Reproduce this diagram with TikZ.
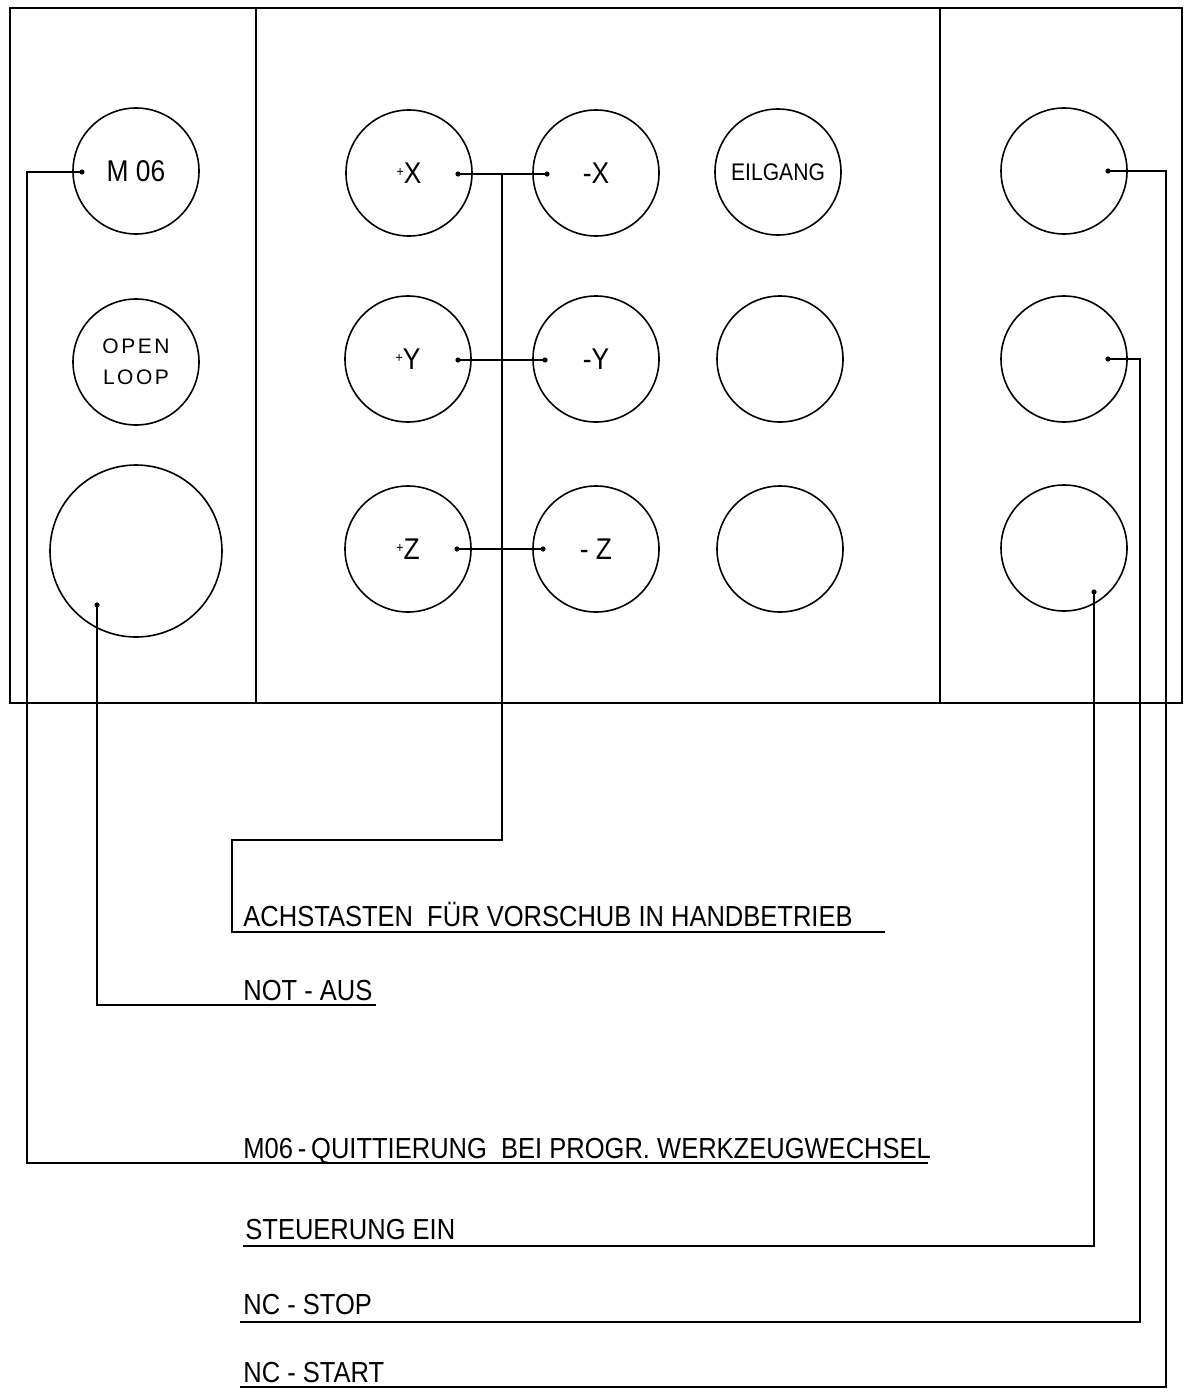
\documentclass[tikz,border=0pt]{standalone}
\usepackage{fontspec}
\setmainfont{Liberation Sans}
\newfontfamily\din[FakeStretch=0.88]{Liberation Sans}
\newfontfamily\widefont[LetterSpace=12]{Liberation Sans}
\newcommand{\pl}{\raisebox{0.22em}{\fontsize{7}{8}\selectfont+}}
\begin{document}
\begin{tikzpicture}[x=0.5pt,y=-0.5pt,
  frame/.style={line width=1.1pt},
  btn/.style={circle,draw,line width=0.8pt,minimum size=63pt,inner sep=0pt,font=\din\fontsize{15}{17}\selectfont},
  bigbtn/.style={circle,draw,line width=0.8pt,minimum size=86pt,inner sep=0pt},
  wire/.style={line width=0.9pt},
  uline/.style={line width=1.1pt},
  lbl/.style={anchor=base west,inner sep=0pt,font=\din\fontsize{14.5}{16}\selectfont}]
\useasboundingbox (0,0) rectangle (1184,1392);
% panel
\draw[frame] (10,8) rectangle (1182,703);
\draw[frame] (256,8) -- (256,703);
\draw[frame] (940,8) -- (940,703);
% left column
\node[btn] (m06) at (136,171) {M 06};
\node[btn,font=\widefont\fontsize{10.5}{15.5}\selectfont,align=center] (open) at (136,362) {OPEN\\LOOP};
\node[bigbtn] (nothalt) at (136,551) {};
% middle
\node[btn] (px) at (409,173) {\pl X};
\node[btn] (mx) at (596,173) {-X};
\node[btn,font=\din\fontsize{12}{14}\selectfont] (eil) at (778,172) {EILGANG};
\node[btn] (py) at (408,359) {\pl Y};
\node[btn] (my) at (596,359) {-Y};
\node[btn] (e2) at (780,359) {};
\node[btn] (pz) at (408,549) {\pl Z};
\node[btn] (mz) at (596,549) {- Z};
\node[btn] (e3) at (780,549) {};
% right column
\node[btn] (r1) at (1064,171) {};
\node[btn] (r2) at (1064,359) {};
\node[btn] (r3) at (1064,548) {};
% labels
\node[lbl] (tA) at (243,926) {ACHSTASTEN\ \ FÜR VORSCHUB IN HANDBETRIEB};
\node[lbl] (tN) at (243,1000) {NOT - AUS};
\node[lbl] (tM) at (243,1158) {M06\,-\,QUITTIERUNG\ \ BEI PROGR. WERKZEUGWECHSEL};
\node[lbl] (tS) at (245,1239) {STEUERUNG EIN};
\node[lbl] (tP) at (243,1314) {NC - STOP};
\node[lbl] (tR) at (243,1382) {NC - START};
% connection points
\coordinate (dM) at (82,172);
\coordinate (dB) at (97,605);
\coordinate (dPX) at (458,174);
\coordinate (dMX) at (547,174);
\coordinate (dPY) at (458,360);
\coordinate (dMY) at (545,360);
\coordinate (dPZ) at (457,549);
\coordinate (dMZ) at (543,549);
\coordinate (dR1) at (1108,171);
\coordinate (dR2) at (1108,359);
\coordinate (dR3) at (1094,592);
\foreach \p in {dM,dB,dPX,dMX,dPY,dMY,dPZ,dMZ,dR1,dR2,dR3} \fill (\p) circle (2.6);
% bends and underline ends
\coordinate (cM) at (27,172);
\coordinate (uM) at (928,1163);
\coordinate (uB) at (376,1005);
\coordinate (jA) at (502,174);
\coordinate (cA) at (502,840);
\coordinate (cA2) at (232,932);
\coordinate (uA) at (885,932);
\coordinate (cR1) at (1166,171);
\coordinate (uR1) at (240,1387);
\coordinate (cR2) at (1140,359);
\coordinate (uR2) at (240,1322);
\coordinate (uR3) at (243,1246);
% wires
\draw[wire] (dM) -- (cM) |- (uM);
\draw[uline] (243,1163) -- (uM);
\draw[wire] (dB) |- (uB);
\draw[uline] (243,1005) -- (uB);
\draw[wire] (dPX) -- (dMX);
\draw[wire] (dPY) -- (dMY);
\draw[wire] (dPZ) -- (dMZ);
\draw[wire] (jA) -- (cA) -| (cA2) -- (uA);
\draw[uline] (cA2) -- (uA);
\draw[wire] (dR1) -- (cR1) |- (uR1);
\draw[uline] (uR1) -- (600,1387);
\draw[wire] (dR2) -- (cR2) |- (uR2);
\draw[uline] (uR2) -- (600,1322);
\draw[wire] (dR3) |- (uR3);
\draw[uline] (uR3) -- (600,1246);
\end{tikzpicture}
\end{document}
